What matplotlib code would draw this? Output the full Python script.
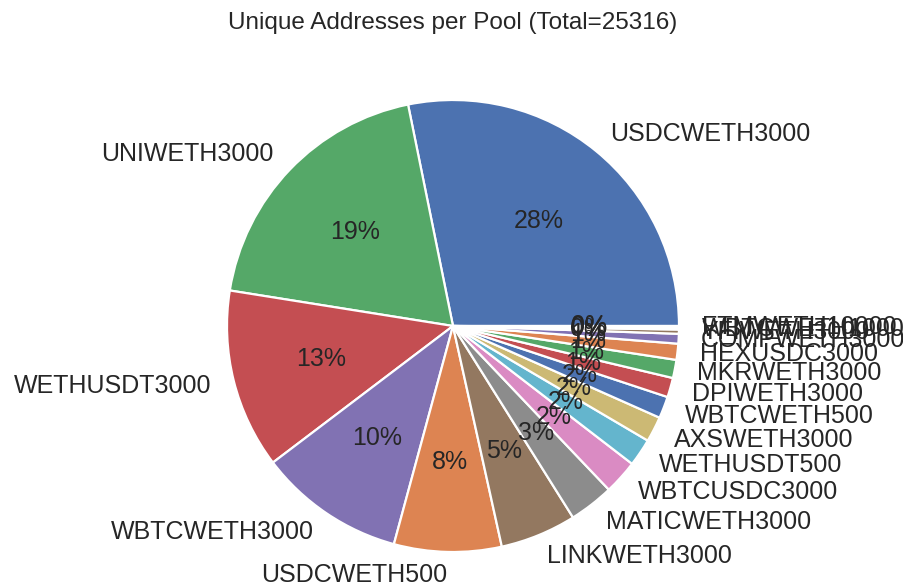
import matplotlib
matplotlib.use("Agg")
import matplotlib.pyplot as plt

pools = ["USDCWETH3000", "UNIWETH3000", "WETHUSDT3000", "WBTCWETH3000", "USDCWETH500",
         "LINKWETH3000", "MATICWETH3000", "WBTCUSDC3000", "WETHUSDT500", "AXSWETH3000",
         "WBTCWETH500", "DPIWETH3000", "MKRWETH3000", "HEXUSDC3000", "COMPWETH3000",
         "YFIWETH3000", "WBTCWETH10000", "FTMWETH10000"]
counts = [7136, 4886, 3250, 2649, 1944, 1378, 810, 620, 500, 460,
          395, 352, 329, 291, 177, 76, 38, 25]
colors = ["#4C72B0", "#55A868", "#C44E52", "#8172B3", "#DD8452", "#937860", "#8C8C8C",
          "#DA8BC3", "#64B5CD", "#CCB974", "#4C72B0", "#C44E52", "#55A868", "#DD8452",
          "#8172B3", "#937860", "#DA8BC3", "#8C8C8C"]

plt.rcParams['font.family'] = ['Liberation Sans', 'DejaVu Sans']
txt_color = '#262626'

W, H = 904, 588
fig = plt.figure(figsize=(W / 100, H / 100), dpi=100)
cx, cy, R = 453, 326, 226
ax = fig.add_axes([(cx - R) / W, (H - cy - R) / H, 2 * R / W, 2 * R / H])

wedges, texts, autotexts = ax.pie(
    counts, labels=pools, colors=colors, autopct='%.0f%%', startangle=0,
    counterclock=True, labeldistance=1.1, pctdistance=0.6,
    wedgeprops=dict(edgecolor='white', linewidth=1.6),
    textprops=dict(fontsize=18, color=txt_color))
ax.set_xlim(-1, 1)
ax.set_ylim(-1, 1)
ax.axis('off')

total = sum(counts)
fig.text(cx / W, 1 - 23 / H, f"Unique Addresses per Pool (Total={total})",
         ha='center', va='center', fontsize=17.5, color=txt_color)

fig.savefig("out.png", dpi=100, facecolor='white')
